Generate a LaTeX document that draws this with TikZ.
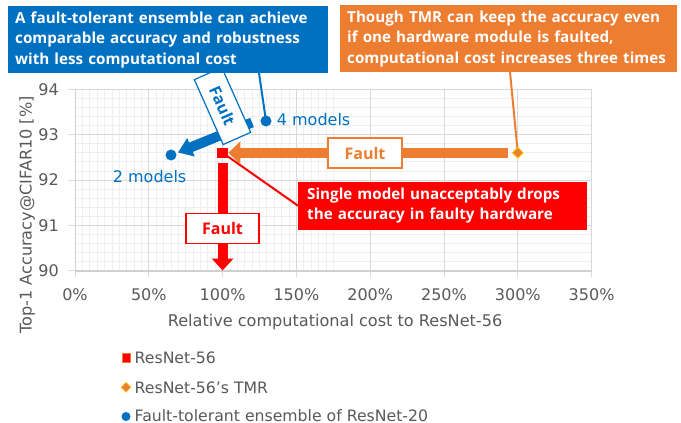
\documentclass[tikz,border=0pt]{standalone}
\usepackage{fontspec}
\setmainfont{DejaVu Sans}
\newfontfamily\boldf{Open Sans}
\usetikzlibrary{arrows.meta,shapes.geometric}
\pgfdeclarelayer{gridlayer}
\pgfdeclarelayer{connlayer}
\pgfsetlayers{gridlayer,connlayer,main}
\definecolor{cblue}{HTML}{0070C0}
\definecolor{corange}{HTML}{ED7D31}
\definecolor{cred}{HTML}{FF0000}
\definecolor{cgray}{HTML}{595959}
\definecolor{gmajor}{HTML}{D9D9D9}
\definecolor{gminor}{HTML}{EFEFEF}
\definecolor{gaxis}{HTML}{D0D0D0}
\definecolor{cgold}{HTML}{FFC000}
\begin{document}
\begin{tikzpicture}[x=1pt,y=-1pt,
  callbox/.style={anchor=north west, inner xsep=7pt, inner ysep=0pt, align=left, text=white, font=\boldf\bfseries\fontsize{15.2}{20.5}\selectfont},
  faultbox/.style={draw, line width=1.2pt, fill=white, minimum width=73pt, minimum height=30pt, inner sep=0pt, font=\boldf\bfseries\fontsize{16}{16}\selectfont},
  ticklab/.style={text=cgray, inner sep=0pt, font=\fontsize{16}{16}\selectfont},
  lab/.style={text=cgray, inner sep=0pt, font=\fontsize{15.7}{15.7}\selectfont},
  axtitle/.style={text=cgray, inner sep=0pt, anchor=base, font=\fontsize{16.1}{16.1}\selectfont},
  modlab/.style={text=cblue, inner sep=0pt, anchor=base west, font=\fontsize{16}{16}\selectfont},
  dot/.style={circle, fill=cblue, inner sep=0pt, minimum size=11pt},
  callout/.style={line width=2pt},
  fatarrow/.style={line width=10pt},
]
\useasboundingbox (0,0) rectangle (681,423);

% background and grid
\begin{pgfonlayer}{gridlayer}
\fill[white] (0,0) rectangle (681,423);
\foreach \i in {0,...,35} \draw[gminor, line width=0.8pt] ({75+\i*7.38},89.3) -- ({75+\i*7.38},271);
\foreach \j in {0,...,20} \draw[gminor, line width=0.8pt] (75,{89.3+\j*9.07}) -- (591.6,{89.3+\j*9.07});
\foreach \i in {0,...,7} \draw[gmajor, line width=1pt] ({75+\i*73.8},89.3) -- ({75+\i*73.8},277);
\foreach \j in {0,...,4} \draw[gmajor, line width=1pt] (68,{89.3+\j*45.35}) -- (591.6,{89.3+\j*45.35});
\draw[gaxis, line width=1.5pt] (75,271) -- (591.6,271);
\draw[gaxis, line width=1pt] (75,89.3) -- (75,271);
\end{pgfonlayer}

% tick labels
\foreach \i/\t in {0/0,1/50,2/100,3/150,4/200,5/250,6/300,7/350}
  \node[ticklab, anchor=base] (xt\i) at ({75+\i*73.8},300.7) {\t\%};
\foreach \j/\t in {0/94,1/93,2/92,3/91,4/90}
  \node[ticklab, anchor=east] (yt\j) at (59,{89.3+\j*45.35}) {\t};
\node[axtitle] (xtitle) at (335,326.7) {Relative computational cost to ResNet-56};
\node[axtitle, rotate=90] (ytitle) at (31.7,215) {Top-1 Accuracy@CIFAR10 [\%]};

% data markers
\node[rectangle, fill=cred, minimum width=11pt, minimum height=10pt, inner sep=0pt] (rs) at (222.6,152.8) {};
\node[diamond, fill=corange, draw=cgold, line width=0.8pt, minimum size=11pt, inner sep=0pt] (tmr) at (517.8,152.8) {};
\node[dot] (m4) at (266,121) {};
\node[dot] (m2) at (171,155) {};
\node[modlab] (l4) at (276.7,125) {4 models};
\node[modlab] (l2) at (112.7,182.7) {2 models};

% fault boxes and callouts
\node[faultbox, draw=cblue, text=cblue, rotate=-66, minimum width=71pt, minimum height=30pt] (fb) at (222.5,106) {Fault};
\node[callbox, fill=cblue, text width=306pt, minimum height=67pt] (bbox) at (8,6)
  {\mbox{A fault-tolerant ensemble can achieve}\\\mbox{comparable accuracy and robustness}\\\mbox{with less computational cost}};
\node[callbox, fill=corange, text width=323pt, minimum height=67pt] (obox) at (340,5)
  {\mbox{Though TMR can keep the accuracy even}\\\mbox{if one hardware module is faulted,}\\\mbox{computational cost increases three times}};
\node[callbox, fill=cred, inner xsep=9pt, text width=271pt, minimum height=47.6pt] (rbox) at (298,181.7)
  {\mbox{Single model unacceptably drops}\\\mbox{the accuracy in faulty hardware}};
\node[faultbox, draw=corange, text=corange, minimum width=74pt] (fo) at (365,153) {Fault};
\node[faultbox, draw=cred, text=cred] (fr) at (222.5,228.5) {Fault};

% connectors
\coordinate (bc) at (259,73);
\coordinate (oc) at (510,72);
\coordinate (oa1) at (508,152.8);
\coordinate (ra1) at (222.6,163);
\coordinate (ra2) at (222.6,270.5);
\coordinate (ba1) at (252,122.5);
\coordinate (ba2) at (178,152.5);
\begin{pgfonlayer}{connlayer}
\draw[cblue, callout] (bc) -- (m4.center);
\draw[corange, callout] (oc) -- (tmr.center);
\draw[cred, callout] (rs.center) -- (rbox.west);
\draw[corange, fatarrow, -{Triangle[width=22pt,length=12pt]}] (oa1) -- (rs.east);
\draw[cred, fatarrow, -{Triangle[width=21pt,length=12pt]}] (ra1) -- (ra2);
\draw[cblue, fatarrow, -{Triangle[width=19pt,length=14pt]}] (ba1) -- (ba2);
\end{pgfonlayer}

% legend
\node[rectangle, fill=cred, draw=corange, line width=0.5pt, minimum width=8.5pt, minimum height=9pt, inner sep=0pt] (lg1) at (126,357.7) {};
\node[lab, anchor=base west] (lt1) at (134.5,363.3) {ResNet-56};
\node[diamond, fill=corange, draw=cgold, line width=0.5pt, minimum size=10pt, inner sep=0pt] (lg2) at (126,387.3) {};
\node[lab, anchor=base west] (lt2) at (134.5,393.3) {ResNet-56's TMR};
\node[circle, fill=cblue, minimum size=9pt, inner sep=0pt] (lg3) at (126,416.5) {};
\node[lab, anchor=base west] (lt3) at (134.5,421) {Fault-tolerant ensemble of ResNet-20};
\end{tikzpicture}
\end{document}
